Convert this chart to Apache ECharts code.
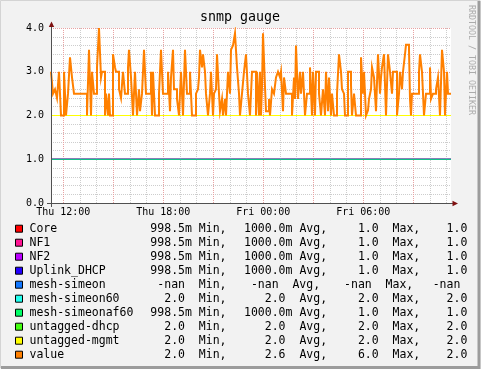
<!DOCTYPE html>
<html><head><meta charset="utf-8">
<script src="https://cdn.jsdelivr.net/npm/echarts@6/dist/echarts.min.js"></script>
<style>html,body{margin:0;padding:0;background:#F2F2F2;}#c{width:481px;height:369px;}</style>
</head><body><div id="c"></div>
<script>
// x values: minutes relative to Thu 12:00
const startMin = -44;
const endMin = 1396;
const sampleMinutes = 3.6; // consolidated step of the graph (216 s)

// "value" series, run-length encoded: level and number of samples it lasts
const valueLevels = [
 3.0,2.5,2.6,2.4,3.0,2.0,3.0,2.0,2.5,3.33,
 2.87,2.5,2.0,3.5,2.0,3.0,2.5,3.1,4.0,2.87,
 3.0,2.0,2.5,2.0,2.5,2.0,3.4,3.1,3.0,2.6,
 2.4,3.0,2.5,3.1,3.5,2.87,2.0,3.0,2.0,2.6,
 2.1,2.5,3.5,2.5,3.0,2.0,3.0,2.0,2.5,3.5,
 2.5,3.0,2.1,2.87,3.5,2.6,2.38,2.0,3.0,2.0,
 3.5,2.5,3.0,2.0,2.5,2.6,2.87,3.5,3.1,3.4,
 3.0,2.5,2.0,2.5,3.0,2.0,2.5,2.6,3.4,2.5,
 2.1,2.38,2.0,2.38,2.0,3.0,2.5,3.5,3.6,3.88,
 3.1,2.5,2.0,2.5,3.0,3.4,2.5,2.0,3.0,2.0,
 3.0,2.0,3.0,2.0,2.65,3.88,2.65,2.1,2.38,2.0,
 2.6,2.5,2.87,3.0,2.87,3.0,2.1,2.87,2.5,2.0,
 2.87,2.38,3.6,2.38,3.0,2.5,3.0,2.0,2.5,3.1,
 2.0,3.0,2.0,3.0,2.5,2.0,2.6,2.0,3.0,2.1,
 2.87,2.0,2.5,2.0,2.5,3.4,3.0,2.6,2.5,2.0,
 3.0,2.7,2.0,2.5,2.0,3.33,2.5,3.0,2.0,2.12,
 2.38,2.6,3.1,2.87,2.1,3.4,2.5,2.87,3.1,3.4,
 2.0,3.4,3.0,2.5,3.0,2.0,2.5,3.0,2.6,3.0,
 3.4,3.62,3.5,2.38,2.0,2.5,3.0,3.4,3.0,2.0,
 2.5,3.1,2.38,2.5,2.6,2.87,2.0,3.5,3.0,2.0,
 3.0,2.5];
const valueRunSamples = [
 2,2,2,2,2,3,2,2,2,2,
 2,13,2,2,1,2,3,2,2,1,
 3,1,2,1,1,3,2,1,3,2,
 2,2,3,1,2,2,2,2,2,1,
 2,2,2,5,1,1,2,4,2,2,
 5,2,1,2,1,3,2,2,2,2,
 2,3,2,4,2,1,1,2,1,2,
 1,2,2,1,2,1,2,1,2,1,
 2,1,2,1,2,2,1,2,2,2,
 2,1,2,2,2,2,2,2,4,1,
 2,1,1,1,1,2,1,3,1,2,
 2,2,2,2,1,2,1,2,6,2,
 1,1,2,2,1,2,2,2,3,2,
 1,2,1,3,2,2,2,1,2,1,
 2,1,2,3,2,2,1,2,1,3,
 3,1,2,2,5,2,1,2,2,1,
 2,1,2,2,2,2,1,1,2,2,
 2,2,2,1,4,2,1,2,1,2,
 1,3,1,1,1,7,1,2,2,2,
 4,1,2,3,2,2,2,2,1,2,
 1,3];

// flat series (start and end samples)
const flatTimes = [startMin, endMin];
const coreValues = [1.0, 1.0];
const nf1Values = [1.0, 1.0];
const nf2Values = [1.0, 1.0];
const uplinkValues = [1.0, 1.0];
const meshSimeonValues = [];
const meshSimeon60Values = [2.0, 2.0];
const meshSimeonaf60Values = [1.0, 1.0];
const untaggedDhcpValues = [2.0, 2.0];
const untaggedMgmtValues = [2.0, 2.0];

const legendNames = ['Core','NF1','NF2','Uplink_DHCP','mesh-simeon','mesh-simeon60','mesh-simeonaf60','untagged-dhcp','untagged-mgmt','value'];
const legendColors = ['#FF0000','#FF1493','#BB00FF','#2200FF','#1177FF','#22FFEE','#00FF66','#44FF11','#FFFF00','#FF8000'];
const statMin = ['998.5m','998.5m','998.5m','998.5m','-nan','2.0','998.5m','2.0','2.0','2.0'];
const statAvg = ['1000.0m','1000.0m','1000.0m','1000.0m','-nan','2.0','1000.0m','2.0','2.0','2.6'];
const statMax = ['1.0','1.0','1.0','1.0','-nan','2.0','1.0','2.0','2.0','6.0'];
const statLast = ['1.0','1.0','1.0','1.0','-nan','2.0','1.0','2.0','2.0','2.0'];

const xLabelTimes = [0, 360, 720, 1080];
const xLabelTexts = ['Thu 12:00','Thu 18:00','Fri 00:00','Fri 06:00'];
const majorGridTimes = [0,180,360,540,720,900,1080,1260];
const minorGridTimes = [60,120,240,300,420,480,600,660,780,840,960,1020,1140,1200,1320,1380];
const yMin = 0, yMax = 4;

// ---- build value series ----
const valueData = [];
let t = startMin;
for (let k = 0; k < valueLevels.length; k++) {
  valueData.push([t, valueLevels[k]]);
  t += valueRunSamples[k] * sampleMinutes;
}
valueData.push([t, valueLevels[valueLevels.length - 1]]);

function flat(vals) { return vals.map((v, i) => [flatTimes[i], v]); }
const flatSets = [coreValues,nf1Values,nf2Values,uplinkValues,meshSimeonValues,meshSimeon60Values,meshSimeonaf60Values,untaggedDhcpValues,untaggedMgmtValues];

const MONO = '"DejaVu Sans Mono", monospace';
const chart = echarts.init(document.getElementById('c'), null, {renderer: 'canvas'});

const GRID_MINOR = '#CDCDCD';
const GRID_MAJOR = '#E8A2A2';
const series = [];
// vertical grid lines, drawn under the data
series.push({
  type: 'line', data: flat([0, 0]), silent: true, z: 1, showSymbol: false,
  lineStyle: {opacity: 0}, itemStyle: {opacity: 0},
  markLine: {
    silent: true, symbol: ['none', 'none'], animation: false, label: {show: false},
    lineStyle: {color: GRID_MINOR, width: 1, type: [1, 1]},
    data: minorGridTimes.map(v => ({xAxis: v}))
  }
});
series.push({
  type: 'line', data: flat([0, 0]), silent: true, z: 1, showSymbol: false,
  lineStyle: {opacity: 0}, itemStyle: {opacity: 0},
  markLine: {
    silent: true, symbol: ['none', 'none'], animation: false, label: {show: false},
    lineStyle: {color: GRID_MAJOR, width: 1, type: [1, 1]},
    data: majorGridTimes.map(v => ({xAxis: v}))
  }
});
flatSets.forEach((vals, i) => {
  if (!vals.length) return;
  series.push({
    name: legendNames[i], type: 'line', data: flat(vals), showSymbol: false, z: 3 + i,
    color: legendColors[i], itemStyle: {color: legendColors[i]},
    lineStyle: {color: legendColors[i], width: 1}, silent: true
  });
});
series.push({
  name: 'value', type: 'line', data: valueData, step: 'end', showSymbol: false, z: 20,
  color: '#FF8000', itemStyle: {color: '#FF8000'},
  lineStyle: {color: '#FF8000', width: 2, join: 'miter'}, silent: true
});

// ---- graphics: frame, canvas, arrows, title, legend ----
const g = [];
g.push({type: 'rect', z: -20, shape: {x: 0, y: 0, width: 481, height: 369}, style: {fill: '#F2F2F2'}});
g.push({type: 'rect', z: -19, shape: {x: 51, y: 28, width: 400, height: 175}, style: {fill: '#FFFFFF'}});
g.push({type: 'polyline', z: 100, shape: {points: [[0.5, 368], [0.5, 0.5], [480, 0.5]]}, style: {stroke: '#D4D4D4', lineWidth: 1, fill: null}});
g.push({type: 'polyline', z: 100, shape: {points: [[479, 1], [479, 367.5], [1, 367.5]]}, style: {stroke: '#9C9C9C', lineWidth: 3, fill: null}});
g.push({type: 'line', z: 100, shape: {x1: 47, y1: 203.5, x2: 453, y2: 203.5}, style: {stroke: '#505050', lineWidth: 1}});
g.push({type: 'line', z: 100, shape: {x1: 51.5, y1: 207, x2: 51.5, y2: 26}, style: {stroke: '#505050', lineWidth: 1}});
g.push({type: 'polygon', z: 100, shape: {points: [[458, 203.5], [452.5, 200.8], [452.5, 206.2]]}, style: {fill: '#7F1010'}});
g.push({type: 'polygon', z: 100, shape: {points: [[51.5, 21.5], [48.8, 27], [54.2, 27]]}, style: {fill: '#7F1010'}});
g.push({type: 'text', z: 100, x: 240, y: 17.8, style: {text: 'snmp gauge', font: '13.3px ' + MONO, fill: '#000', align: 'center', verticalAlign: 'middle', textAlign: 'center', textVerticalAlign: 'middle'}});
g.push({type: 'text', z: 100, x: 471.5, y: 60, rotation: -Math.PI / 2, style: {text: 'RRDTOOL / TOBI OETIKER', font: '8.3px ' + MONO, fill: '#ABABAB', align: 'center', verticalAlign: 'middle', textAlign: 'center', textVerticalAlign: 'middle'}});

const LEG = '11.5px ' + MONO;
function txt(x, y, s, align) {
  return {type: 'text', z: 100, x: x, y: y, style: {text: s, font: LEG, fill: '#000', align: align, verticalAlign: 'middle', textAlign: align, textVerticalAlign: 'middle'}};
}
function fmt(s) { return /m$/.test(s) ? s : s + ' '; }
legendNames.forEach((name, i) => {
  const y = 228.7 + 14 * i;
  const nan = statAvg[i] === '-nan';
  const sh = nan ? -6.95 : 0;
  g.push({type: 'rect', z: 100, shape: {x: 15.5, y: y - 3.5, width: 7, height: 7}, style: {fill: legendColors[i], stroke: '#000', lineWidth: 1}});
  g.push(txt(29.5, y, name, 'left'));
  g.push(txt(191.9, y, fmt(statMin[i]), 'right'));
  g.push(txt(198.85, y, 'Min,', 'left'));
  g.push(txt(292.45 + sh, y, fmt(statAvg[i]), 'right'));
  g.push(txt(299.4 + sh, y, 'Avg,', 'left'));
  g.push(txt(385.6 + sh, y, fmt(statMax[i]), 'right'));
  g.push(txt(392.55 + sh, y, 'Max,', 'left'));
  g.push(txt(467.3 + sh, y, statLast[i], 'right'));
});

chart.setOption({
  animation: false,
  grid: {left: 51, top: 28, width: 400, height: 175, show: false, containLabel: false},
  xAxis: {
    type: 'value', min: startMin, max: endMin,
    axisLine: {show: false},
    axisTick: {show: false},
    axisLabel: {show: true, customValues: xLabelTimes, margin: 4.5, fontFamily: 'DejaVu Sans Mono', fontSize: 10, color: '#000',
      formatter: v => xLabelTexts[xLabelTimes.indexOf(v)] || ''},
    splitLine: {show: false}
  },
  yAxis: {
    type: 'value', min: yMin, max: yMax, interval: 1,
    axisLine: {show: false},
    axisTick: {show: false},
    axisLabel: {margin: 7, fontFamily: 'DejaVu Sans Mono', fontSize: 10, color: '#000', formatter: v => v.toFixed(1)},
    splitLine: {show: true, lineStyle: {color: GRID_MAJOR, width: 1, type: [1, 1]}},
    minorTick: {show: false, splitNumber: 5},
    minorSplitLine: {show: true, lineStyle: {color: GRID_MINOR, width: 1, type: [1, 1]}}
  },
  series: series,
  graphic: {elements: g}
});
</script></body></html>
